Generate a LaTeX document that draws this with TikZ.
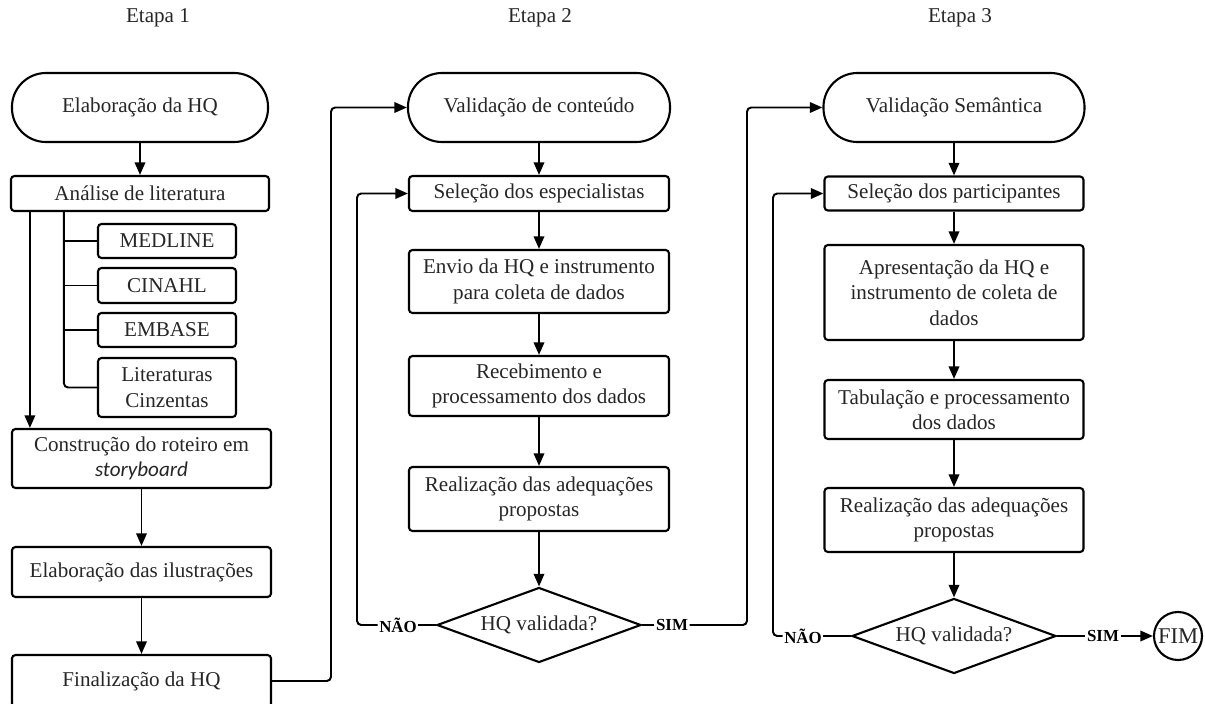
\documentclass[tikz,border=0pt]{standalone}
\usepackage{fontspec}
\setmainfont{Liberation Serif}
\newfontfamily\storyfont{Carlito}
\usetikzlibrary{shapes.geometric, arrows.meta}

\newcommand{\boxfont}{\fontsize{15}{18}\selectfont}

\tikzset{
  stagetitle/.style={font=\boxfont, text=black!85},
  term/.style={draw, line width=1.5pt, rounded corners=0.85cm, minimum height=1.725cm, font=\boxfont, text=black!85},
  box/.style={draw, line width=1.5pt, rounded corners=2.5pt, align=center, minimum height=0.875cm, inner sep=2pt, font=\boxfont, text=black!85},
  dec/.style={draw, diamond, aspect=2.7, line width=1.5pt, inner sep=0pt, minimum width=5.1cm, minimum height=1.875cm, font=\boxfont, text=black!85},
  lbl/.style={inner sep=1pt, font=\fontsize{12}{14}\selectfont\bfseries},
  endcirc/.style={draw, circle, line width=1.5pt, inner sep=0pt, minimum size=1.2cm, font=\fontsize{16}{18}\selectfont, text=black!85},
  link/.style={line width=1.4pt, rounded corners=3pt}
}

\begin{document}
\begin{tikzpicture}[x=0.025cm, y=-0.025cm, >={Triangle[length=9pt, width=7.5pt]}]
  \useasboundingbox (0, 0) rectangle (1205, 704);
  % stage titles
  \node [stagetitle] (et1) at (158, 18) {Etapa 1};
  \node [stagetitle] (et2) at (540, 18) {Etapa 2};
  \node [stagetitle] (et3) at (960, 18) {Etapa 3};
  % stage 1
  \node [term, minimum width=6.4cm] (ini1) at (140, 107.5) {Elaboração da HQ};
  \node [box, minimum width=6.45cm] (lit) at (140, 193.5) {Análise de literatura};
  \node [box, minimum width=3.45cm, minimum height=0.85cm] (medline) at (167, 241) {MEDLINE};
  \node [box, minimum width=3.45cm] (cinahl) at (167, 285.5) {CINAHL};
  \node [box, minimum width=3.45cm, minimum height=0.85cm] (embase) at (167, 330) {EMBASE};
  \node [box, minimum width=3.45cm, minimum height=1.475cm] (cinz) at (167, 387.5) {Literaturas\\Cinzentas};
  \node [box, minimum width=6.475cm, minimum height=1.475cm] (constr) at (141.5, 458.5) {Construção do roteiro em\\{\storyfont\itshape storyboard}};
  \node [box, minimum width=6.475cm, minimum height=1.25cm] (ilus) at (141.5, 572) {Elaboração das ilustrações};
  \node [box, minimum width=6.475cm, minimum height=1.3cm] (final) at (141.5, 681) {Finalização da HQ};
  % stage 2
  \node [term, minimum width=6.55cm] (val1) at (539, 107.5) {Validação de conteúdo};
  \node [box, minimum width=6.5cm] (esp) at (539, 193.5) {Seleção dos especialistas};
  \node [box, minimum width=6.5cm, minimum height=1.575cm] (envio) at (539, 281.5) {Envio da HQ e instrumento\\para coleta de dados};
  \node [box, minimum width=6.5cm, minimum height=1.5cm] (receb) at (539, 386) {Recebimento e\\processamento dos dados};
  \node [box, minimum width=6.5cm, minimum height=1.6cm] (adeq1) at (539, 499) {Realização das adequações\\propostas};
  \node [dec] (dec1) at (539, 625) {HQ validada?};
  \node [lbl] (nao1) at (398, 625) {NÃO};
  \node [lbl] (sim1) at (672, 625) {SIM};
  % stage 3
  \node [term, minimum width=6.525cm] (val2) at (954, 107.5) {Validação Semântica};
  \node [box, minimum width=6.475cm, minimum height=0.85cm] (part) at (954, 193.5) {Seleção dos participantes};
  \node [box, minimum width=6.475cm, minimum height=2.375cm] (apres) at (954, 292.5) {Apresentação da HQ e\\instrumento de coleta de\\dados};
  \node [box, minimum width=6.475cm, minimum height=1.475cm] (tab) at (954, 409.5) {Tabulação e processamento\\dos dados};
  \node [box, minimum width=6.475cm, minimum height=1.6cm] (adeq2) at (954, 520) {Realização das adequações\\propostas};
  \node [dec] (dec2) at (954, 636) {HQ validada?};
  \node [lbl] (nao2) at (803, 636) {NÃO};
  \node [lbl] (sim2) at (1103, 636) {SIM};
  \node [endcirc] (fim) at (1178, 636) {FIM};
  % bend points
  \coordinate (br) at ([xshift=1.35cm]lit.south west);
  \coordinate (jump1) at (331, 400);
  \coordinate (back1) at (357, 625);
  \coordinate (up1) at (747, 625);
  \coordinate (back2) at (773, 636);
  % stage 1 links
  \draw [link, ->] (ini1) -- (lit);
  \draw [link, ->] ([xshift=0.5cm]lit.south west) -- ([xshift=0.5cm]lit.south west |- constr.north);
  \draw [link] (br) |- (cinz.west);
  \foreach \db in {medline, cinahl, embase}
    \draw [link] (br |- \db.west) -- (\db.west);
  \draw [link, ->] (constr) -- (ilus);
  \draw [link, ->] (ilus) -- (final);
  \draw [link, ->] (final.east) -| (jump1) |- (val1.west);
  % stage 2 links
  \draw [link, ->] (val1) -- (esp);
  \draw [link, ->] (esp) -- (envio);
  \draw [link, ->] (envio) -- (receb);
  \draw [link, ->] (receb) -- (adeq1);
  \draw [link, ->] (adeq1) -- (dec1);
  \draw [link] (dec1) -- (nao1);
  \draw [link, ->] (nao1) -- (back1) |- (esp.west);
  \draw [link] (dec1) -- (sim1);
  \draw [link, ->] (sim1) -- (up1) |- (val2.west);
  % stage 3 links
  \draw [link, ->] (val2) -- (part);
  \draw [link, ->] (part) -- (apres);
  \draw [link, ->] (apres) -- (tab);
  \draw [link, ->] (tab) -- (adeq2);
  \draw [link, ->] (adeq2) -- (dec2);
  \draw [link] (dec2) -- (nao2);
  \draw [link, ->] (nao2) -- (back2) |- (part.west);
  \draw [link] (dec2) -- (sim2);
  \draw [link, ->] (sim2) -- (fim);
\end{tikzpicture}
\end{document}
